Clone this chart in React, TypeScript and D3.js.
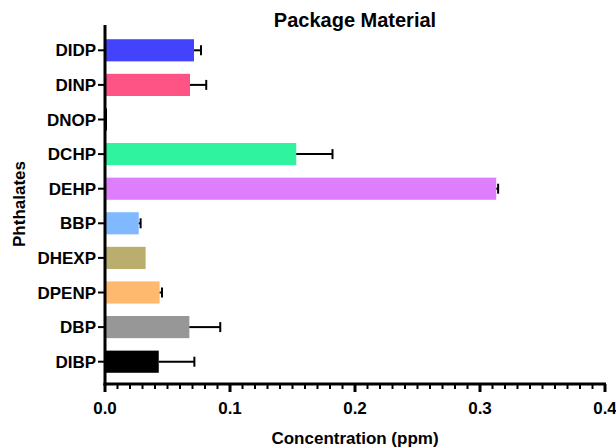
import React from 'react'
import * as d3 from 'd3';

const categories = ['DIDP', 'DINP', 'DNOP', 'DCHP', 'DEHP', 'BBP', 'DHEXP', 'DPENP', 'DBP', 'DIBP'];
const means = [0.0712, 0.068, 0.001, 0.153, 0.313, 0.027, 0.0325, 0.0437, 0.0675, 0.043];
const errors = [0.0056, 0.013, 0, 0.029, 0.0015, 0.0015, 0, 0.0019, 0.0247, 0.0285];
const colors = ['#4343fb', '#fd5385', '#000000', '#30f3a0', '#de7efd', '#80b9ff', '#b9ae6d', '#ffb96e', '#979797', '#000000'];
const xTicks = [0, 0.1, 0.2, 0.3, 0.4];

const App: React.FC = () => {
  const width = 616;
  const height = 448;
  const left = 105;
  const right = 605;
  const axisY = 384;

  const x = d3.scaleLinear().domain([0, 0.4]).range([left, right]);
  const y = d3.scaleBand<string>()
    .domain(categories)
    .range([33, 379])
    .paddingInner(0.36)
    .paddingOuter(0.18);

  const minorTicks = d3.range(0, 41).map(i => i / 100);
  const font = 'Liberation Sans, Arial, sans-serif';

  return (
    <svg width={width} height={height} style={{ position: 'absolute', left: 0, top: 0 }}>
      <text x={355} y={27} textAnchor='middle' fontFamily={font} fontWeight='bold' fontSize={20}>
        Package Material
      </text>
      {categories.map((c, i) => {
        const yc = y(c)! + y.bandwidth() / 2;
        const w = Math.max(x(means[i]) - x(0), 2);
        const e = errors[i];
        return (
          <g key={c}>
            <rect x={x(0)} y={y(c)} width={w} height={y.bandwidth()} fill={colors[i]} />
            {e > 0 && (
              <g stroke='#000' strokeWidth={2}>
                <line x1={x(means[i])} x2={x(means[i] + e)} y1={yc} y2={yc} />
                <line x1={x(means[i] + e)} x2={x(means[i] + e)} y1={yc - 5} y2={yc + 5} />
              </g>
            )}
            <line x1={left - 7} x2={left} y1={yc} y2={yc} stroke='#000' strokeWidth={2} />
            <text x={left - 9} y={yc} dy='0.36em' textAnchor='end' fontFamily={font} fontWeight='bold' fontSize={17}>
              {c}
            </text>
          </g>
        );
      })}
      <line x1={left} x2={left} y1={25} y2={axisY + 1.5} stroke='#000' strokeWidth={3} />
      <line x1={left - 1.5} x2={right + 1} y1={axisY} y2={axisY} stroke='#000' strokeWidth={3} />
      {minorTicks.map((t, i) => (
        <line key={i} x1={x(t)} x2={x(t)} y1={axisY} y2={axisY + (i % 10 === 0 ? 8 : 5)}
          stroke='#000' strokeWidth={i % 10 === 0 ? 3 : 2} />
      ))}
      {xTicks.map(t => (
        <text key={t} x={x(t)} y={414} textAnchor='middle' fontFamily={font} fontWeight='bold' fontSize={17}>
          {t.toFixed(1)}
        </text>
      ))}
      <text x={355} y={444} textAnchor='middle' fontFamily={font} fontWeight='bold' fontSize={17}>
        Concentration (ppm)
      </text>
      <text transform='translate(25, 204) rotate(-90)' textAnchor='middle' fontFamily={font} fontWeight='bold' fontSize={17}>
        Phthalates
      </text>
    </svg>
  )
}

export default App
